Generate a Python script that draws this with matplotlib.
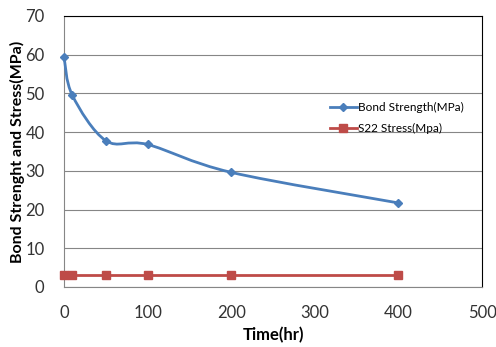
import numpy as np
import matplotlib.pyplot as plt
from matplotlib.path import Path
from matplotlib.patches import PathPatch

plt.rcParams['font.family'] = ['Lato', 'DejaVu Sans']

# datos
tiempo_bond = [0, 10, 50, 100, 200, 400]
bond_strength = [59.5, 49.5, 37.8, 36.8, 29.6, 21.7]
tiempo_s22 = [0, 10, 50, 100, 200, 400]
s22_stress = [3, 3, 3, 3, 3, 3]

azul = '#4A7EBB'
rojo = '#BE4B48'


def curva_suave(x, y):
    # curva tipo Excel (Catmull-Rom convertida a Bezier)
    p = np.column_stack([x, y]).astype(float)
    verts = [p[0]]
    codes = [Path.MOVETO]
    n = len(p)
    for i in range(n - 1):
        p0 = p[i - 1] if i > 0 else p[i]
        p1 = p[i]
        p2 = p[i + 1]
        p3 = p[i + 2] if i + 2 < n else p[i + 1]
        c1 = p1 + (p2 - p0) / 6
        c2 = p2 - (p3 - p1) / 6
        verts += [c1, c2, p2]
        codes += [Path.CURVE4] * 3
    return Path(verts, codes)


fig = plt.figure(figsize=(4.96, 3.47), dpi=100)
ax = fig.add_axes([0.129, 0.173, 0.843, 0.781])

ax.add_patch(PathPatch(curva_suave(tiempo_bond, bond_strength), fill=False,
                       edgecolor=azul, linewidth=2, zorder=3, clip_on=False))
ax.plot(tiempo_bond, bond_strength, linestyle='none', marker='D', markersize=4.5,
        color=azul, zorder=4, clip_on=False)
ax.plot(tiempo_s22, s22_stress, color=rojo, linewidth=2, marker='s', markersize=6,
        zorder=4, clip_on=False)

# leyenda con muestras
ax.plot([], [], color=azul, linewidth=2, marker='D', markersize=4, label='Bond Strength(MPa)')
ax.plot([], [], color=rojo, linewidth=2, marker='s', markersize=5.5, label='S22 Stress(Mpa)')
h, l = ax.get_legend_handles_labels()
ax.legend(h[-2:], l[-2:], loc='center left', bbox_to_anchor=(0.636, 0.622), frameon=False,
          fontsize=8.5, handlelength=2.3, labelspacing=0.85, handletextpad=0.1,
          borderpad=0, borderaxespad=0)

ax.set_xlim(0, 500)
ax.set_ylim(0, 70)
ax.set_xticks(range(0, 501, 100))
ax.set_yticks(range(0, 71, 10))
ax.yaxis.grid(True, color='#868686', linewidth=0.8)
ax.set_axisbelow(True)
ax.tick_params(length=0, labelsize=12, colors='#333333')
ax.tick_params(axis='x', pad=13)
ax.tick_params(axis='y', pad=14)

ax.spines['top'].set_color('black')
ax.spines['right'].set_color('black')
ax.spines['left'].set_color('#868686')
ax.spines['bottom'].set_color('#868686')

ax.set_xlabel('Time(hr)', fontsize=12, fontweight='bold', labelpad=4)
ax.set_ylabel('Bond Strenght and Stress(MPa)', fontsize=11.5, fontweight='bold', labelpad=0)

fig.savefig('out.png', dpi=100)
